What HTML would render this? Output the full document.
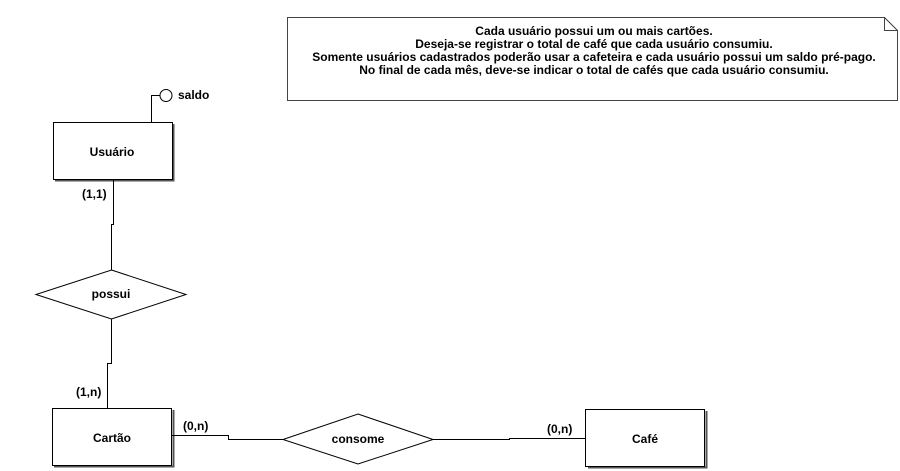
<!DOCTYPE html>
<html><head><meta charset="utf-8"><style>
html,body{margin:0;padding:0;background:#fff;}
svg{display:block;}
text{font-family:"Liberation Sans",Arial,sans-serif;font-weight:bold;font-size:12px;fill:#000;}
</style></head><body>
<svg width="900" height="471" viewBox="0 0 900 471" xmlns="http://www.w3.org/2000/svg">
<g fill="none" stroke="#000" stroke-width="1" shape-rendering="crispEdges">
  <path d="M287.5 17.5 H884.5 L897.5 30.5 V100.5 H287.5 Z" stroke="#444"/>
  <path d="M884.5 17.5 V30.5 H897.5" stroke="#444"/>
  <path d="M173.5 124 V180.5 H55" stroke="#555" stroke-width="2"/>
  <path d="M173.5 410 V466.5 H54" stroke="#555" stroke-width="2"/>
  <path d="M706.5 411 V467.5 H588" stroke="#555" stroke-width="2"/>
  <rect x="53.5" y="122.5" width="119" height="57" fill="#fff"/>
  <rect x="52.5" y="408.5" width="119" height="57" fill="#fff"/>
  <rect x="585.5" y="409.5" width="119" height="57" fill="#fff"/>
  <path d="M151.5 122 V95.5 H160"/>
  <path d="M113.5 180 V224.5 H111.5 V270"/>
  <path d="M111.5 319 V363.5 H107.5 V408"/>
  <path d="M172 435.5 H228.5 V439.5 H283"/>
  <path d="M433 439.5 H509.5 V438.5 H586"/>
</g>
<g fill="none" stroke="#000" stroke-width="1">
  <circle cx="166" cy="95.5" r="6"/>
  <polygon points="111.5,270 186,294.5 111.5,319 36,294.5" fill="#fff"/>
  <polygon points="358,414 433,439.5 358,464 283,439.5" fill="#fff"/>
</g>
<text x="178" y="99">saldo</text>
<text x="112" y="156" text-anchor="middle">Usuário</text>
<text x="112" y="442" text-anchor="middle">Cartão</text>
<text x="645" y="443" text-anchor="middle">Café</text>
<text x="111" y="298" text-anchor="middle">possui</text>
<text x="358" y="443" text-anchor="middle">consome</text>
<text x="82" y="198">(1,1)</text>
<text x="76" y="396">(1,n)</text>
<text x="183" y="430">(0,n)</text>
<text x="547" y="433">(0,n)</text>
<g text-anchor="middle" style="font-size:12.3px">
<text x="594" y="35">Cada usuário possui um ou mais cartões.</text>
<text x="594" y="48">Deseja-se registrar o total de  café que cada usuário  consumiu.</text>
<text x="594" y="61">Somente usuários cadastrados  poderão usar a cafeteira e cada  usuário possui um saldo pré-pago.</text>
<text x="594" y="74">No final de cada mês, deve-se  indicar o total de cafés que  cada usuário consumiu.</text>
</g>
</svg>
</body></html>
